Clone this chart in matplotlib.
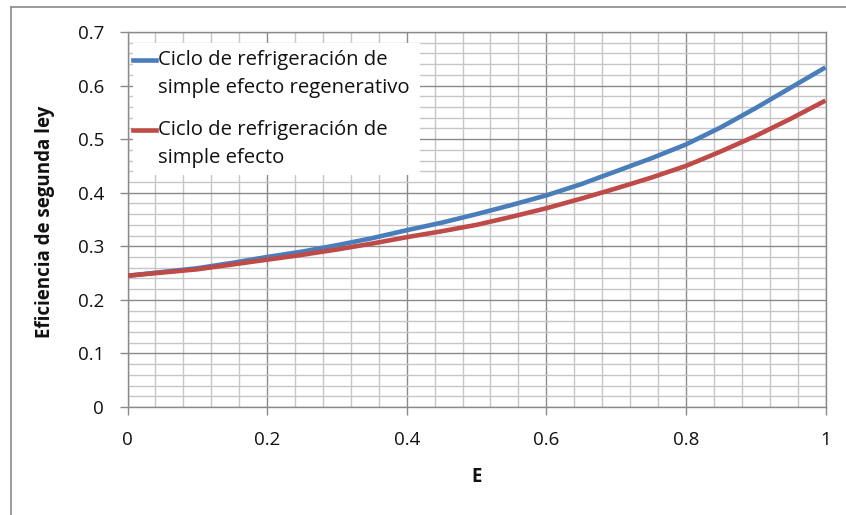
import matplotlib
matplotlib.use("Agg")
import matplotlib.pyplot as plt
from matplotlib.lines import Line2D
from matplotlib.patches import Rectangle
from matplotlib.ticker import MultipleLocator

E = [0.00, 0.05, 0.10, 0.15, 0.20, 0.25, 0.30, 0.35, 0.40, 0.45, 0.50,
     0.55, 0.60, 0.65, 0.70, 0.75, 0.80, 0.85, 0.90, 0.95, 1.00]
regenerativo = [0.245, 0.252, 0.259, 0.269, 0.280, 0.290, 0.302, 0.315, 0.330,
                0.344, 0.360, 0.377, 0.395, 0.416, 0.440, 0.464, 0.490, 0.522,
                0.558, 0.596, 0.634]
simple = [0.245, 0.251, 0.257, 0.266, 0.275, 0.284, 0.294, 0.305, 0.317,
          0.328, 0.340, 0.355, 0.371, 0.389, 0.408, 0.428, 0.450, 0.477,
          0.506, 0.538, 0.572]
labels = [["Ciclo de refrigeración de", "simple efecto regenerativo"],
          ["Ciclo de refrigeración de", "simple efecto"]]
colors = ["#4a7ebb", "#be4b48"]
xticks = [0, 0.2, 0.4, 0.6, 0.8, 1.0]
xtick_labels = ["0", "0.2", "0.4", "0.6", "0.8", "1"]
yticks = [0, 0.1, 0.2, 0.3, 0.4, 0.5, 0.6, 0.7]
ytick_labels = ["0", "0.1", "0.2", "0.3", "0.4", "0.5", "0.6", "0.7"]

FONT = "Open Sans"
W, H = 846, 515
fig = plt.figure(figsize=(W / 100, H / 100), dpi=100)
L, R, T, B = 127.5, 825.5, 32, 407
ax = fig.add_axes([L / W, 1 - B / H, (R - L) / W, (B - T) / H])

major_c = "#8a8a8a"
minor_c = "#c6c6c6"
text_c = "#111111"

ax.plot(E, regenerativo, color=colors[0], lw=3.3, solid_joinstyle="round",
        solid_capstyle="butt", zorder=4)
ax.plot(E, simple, color=colors[1], lw=3.3, solid_joinstyle="round",
        solid_capstyle="butt", zorder=4)

ax.set_xlim(0, 1)
ax.set_ylim(0, 0.7)
ax.set_xticks(xticks)
ax.set_xticklabels(xtick_labels)
ax.set_yticks(yticks)
ax.set_yticklabels(ytick_labels)
ax.xaxis.set_minor_locator(MultipleLocator(0.04))
ax.yaxis.set_minor_locator(MultipleLocator(0.02))
ax.grid(which="minor", color=minor_c, lw=1.0, zorder=1)
ax.grid(which="major", color=major_c, lw=1.0, zorder=2)
ax.set_axisbelow(True)
ax.tick_params(which="major", direction="out", length=6, width=1.0,
               color=major_c, pad=11, labelsize=13.5, labelcolor=text_c)
ax.tick_params(which="minor", length=0)
for lab in ax.get_xticklabels() + ax.get_yticklabels():
    lab.set_fontfamily(FONT)
for s in ax.spines.values():
    s.set_color(major_c)
    s.set_linewidth(1.0)

# legend (manual, Excel style)
def ax_x(px):
    return (px - L) / (R - L)

def ax_y(py):
    return 1 - (py - T) / (B - T)

ax.add_patch(Rectangle((ax_x(133), ax_y(175)), ax_x(420) - ax_x(133),
                       ax_y(43) - ax_y(175), transform=ax.transAxes,
                       facecolor="white", edgecolor="none", zorder=5))
line_rows = [(60, 88), (130, 158)]
for (y1, y2), lab, c in zip(line_rows, labels, colors):
    ax.add_line(Line2D([ax_x(133), ax_x(156)], [ax_y(y1), ax_y(y1)],
                       transform=ax.transAxes, color=c, lw=3.3, zorder=6))
    ax.text(ax_x(158), ax_y(y1), lab[0], transform=ax.transAxes, va="center",
            ha="left", fontsize=14.6, family=FONT, color=text_c, zorder=6)
    ax.text(ax_x(158), ax_y(y2), lab[1], transform=ax.transAxes, va="center",
            ha="left", fontsize=14.6, family=FONT, color=text_c, zorder=6)

fig.text(45 / W, 1 - 222 / H, "Eficiencia de segunda ley", rotation=90,
         ha="center", va="center", fontsize=13.5, fontweight="bold",
         family=FONT, color=text_c)
fig.text(477 / W, 1 - 477 / H, "E", ha="center", va="center", fontsize=13.5,
         fontweight="bold", family=FONT, color=text_c)

# outer chart border
fig.add_artist(Line2D([11 / W, 1.0], [1 - 7 / H, 1 - 7 / H],
                      transform=fig.transFigure, color=major_c, lw=1.2))
fig.add_artist(Line2D([11 / W, 11 / W], [1 - 7 / H, 0],
                      transform=fig.transFigure, color=major_c, lw=1.2))

fig.savefig("out.png", dpi=100)
